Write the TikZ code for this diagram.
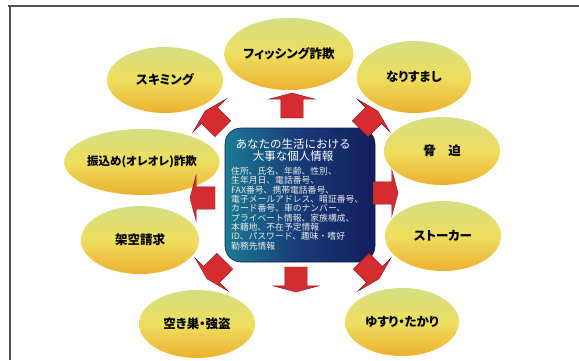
\documentclass[tikz,border=0pt]{standalone}
\usepackage{fontspec}
\newfontfamily\jp{Noto Sans CJK JP}
\newfontfamily\jpp{Noto Sans CJK JP}[RawFeature=+palt]
\usetikzlibrary{shapes.geometric,shapes.arrows}
\definecolor{ovtop}{RGB}{212,222,130}
\definecolor{ovmid}{RGB}{238,222,96}
\definecolor{ovbot}{RGB}{236,176,46}
\definecolor{arrred}{RGB}{214,44,48}
\definecolor{arrdark}{RGB}{120,20,24}
\definecolor{boxteal}{RGB}{28,122,148}
\definecolor{boxmid}{RGB}{24,58,118}
\definecolor{boxnavy}{RGB}{18,30,92}
\definecolor{framegray}{RGB}{80,80,80}
\begin{document}
\begin{tikzpicture}[x=1pt,y=-1pt,
  oval/.style={ellipse, inner sep=0pt, top color=ovtop, bottom color=ovbot, middle color=ovmid,
    font=\jpp\bfseries\fontsize{12.5}{14}\selectfont, text=black},
  blk/.style={single arrow, single arrow head extend=12pt, single arrow tip angle=150,
    inner xsep=0pt, inner ysep=11pt, minimum height=25pt, fill=arrred, draw=arrdark, line width=0.4pt},
  infobox/.style={rectangle, rounded corners=16pt, minimum width=150pt, minimum height=134pt,
    left color=boxteal, right color=boxnavy, middle color=boxmid, draw=boxnavy, line width=0.6pt},
  frameline/.style={draw=framegray, line width=1.1pt}]
\useasboundingbox (0,0) rectangle (579,360);
\fill[white] (0,0) rectangle (579,360);
\draw[frameline] (8,6) -- (579,6);
\draw[frameline] (10,6) -- (10,360);

% ellipses
\node[oval, minimum width=118pt, minimum height=72pt] (phish) at (289,54) {フィッシング詐欺};
\node[oval, minimum width=114pt, minimum height=72pt] (nari) at (414,77) {なりすまし};
\node[oval, minimum width=116pt, minimum height=66pt] (skim) at (165,80) {スキミング};
\node[oval, minimum width=118pt, minimum height=66pt, font=\jpp\bfseries\fontsize{11.5}{13}\selectfont] (furi) at (142,162) {振込め(オレオレ)詐欺};
\node[oval, minimum width=118pt, minimum height=68pt] (kaku) at (140,240) {架空請求};
\node[oval, minimum width=116pt, minimum height=68pt] (akisu) at (197,324) {空き巣・強盗};
\node[oval, minimum width=114pt, minimum height=68pt] (yusuri) at (402,322) {ゆすり・たかり};
\node[oval, minimum width=116pt, minimum height=70pt] (stalker) at (443,236) {ストーカー};
\node[oval, minimum width=116pt, minimum height=68pt] (kyohaku) at (442,151) {脅　迫};

% centre box
\node[infobox] (info) at (300,195) {};
\node[text=white, align=center, inner sep=0pt, font=\jp\fontsize{11.5}{12}\selectfont] (title) at (293,150)
  {あなたの生活における\\大事な個人情報};
\node[text=white!92!black, align=left, anchor=north west, inner sep=0pt,
  font=\jp\fontsize{8.8}{9.3}\selectfont] (body) at (231,167)
  {住所、氏名、年齢、性別、\\生年月日、電話番号、\\FAX番号、携帯電話番号、\\電子メールアドレス、暗証番号、\\カード番号、車のナンバー、\\プライベート情報、家族構成、\\本籍地、不在予定情報\\ID、パスワード、趣味・嗜好\\勤務先情報};

% block arrows
\node[blk, rotate=90] (aup) at (292,107) {};
\node[blk, rotate=270] (adown) at (296,278) {};
\node[blk, rotate=180] (aleft) at (204,198) {};
\node[blk, rotate=0] (aright) at (384,193) {};
\node[blk, rotate=135] (aul) at (215,121) {};
\node[blk, rotate=45] (aur) at (368,121) {};
\node[blk, rotate=225] (all) at (217,269) {};
\node[blk, rotate=315] (alr) at (369,269) {};
\end{tikzpicture}
\end{document}
